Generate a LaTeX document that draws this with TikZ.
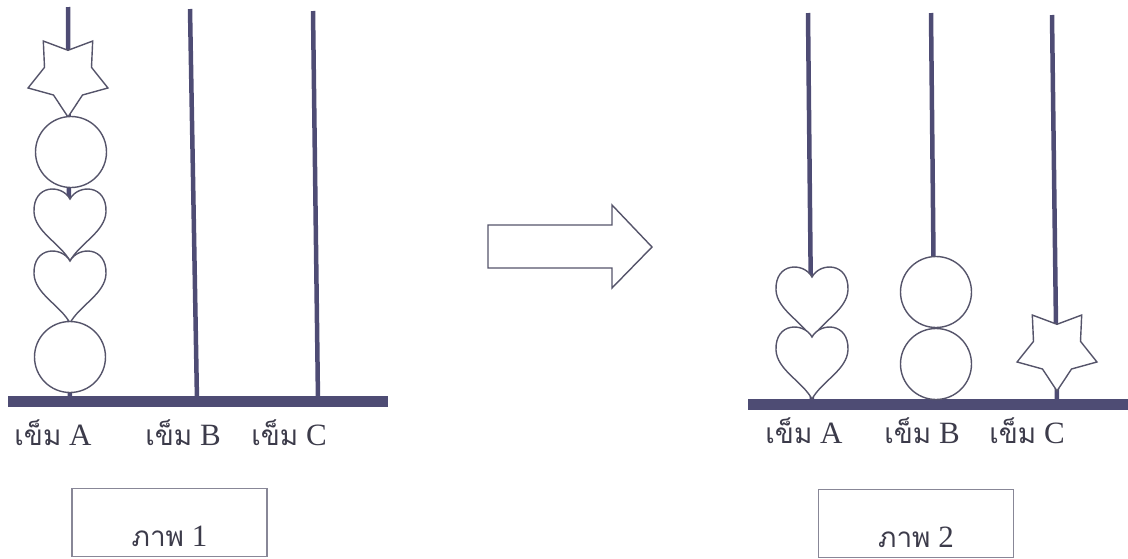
\documentclass[tikz,border=0pt]{standalone}
\usepackage{fontspec}
\setmainfont{Liberation Serif}
\newfontfamily\thaifont[Script=Thai,Scale=0.9]{Loma}
\usetikzlibrary{shapes.geometric}
\definecolor{rod}{HTML}{4E4C74}
\definecolor{ink}{HTML}{55546A}
\definecolor{txt}{HTML}{3C3B4A}
\newcommand\khem{{\thaifont เข็ม}}
\tikzset{
  rodline/.style={draw=rod,line width=4.5pt},
  basebar/.style={draw=rod,line width=11pt},
  bead/.style={draw=ink,line width=1.4pt,fill=white},
  ball/.style={bead,circle,minimum size=71pt,inner sep=0pt},
  starbead/.style={bead,star,star points=5,star point ratio=1.7,minimum size=84pt,inner sep=0pt,shape border rotate=180},
  pinlab/.style={font=\fontsize{31}{34}\selectfont,text=txt,anchor=base},
  capbox/.style={draw=ink!70,line width=1.2pt,minimum width=195pt,minimum height=68pt},
  captext/.style={font=\fontsize{31}{34}\selectfont,text=txt},
  heart/.pic={\path[bead] (0,0) .. controls (-8,-15) and (-37,-15) .. (-36,13) .. controls (-35,33) and (-10,44) .. (0,62) .. controls (10,44) and (35,33) .. (36,13) .. controls (37,-15) and (8,-15) .. (0,0) -- cycle;},
}
\begin{document}
\begin{tikzpicture}[x=1pt,y=-1pt]
\useasboundingbox (0,0) rectangle (1128,558);
% pins: name/top x/top y/foot x/foot y
\foreach \n/\xt/\yt/\xf/\yf in {a1/68/7/70/401,b1/190/9/197/401,c1/313/11/318/401,a2/808/13/812/404,b2/931/13/935/404,c2/1052/15/1057/404}{
  \coordinate (\n top) at (\xt,\yt);
  \coordinate (\n foot) at (\xf,\yf);
  \draw[rodline] (\n top) -- (\n foot);}
\coordinate (bar1w) at (8,401); \coordinate (bar1e) at (388,401);
\coordinate (bar2w) at (748,404); \coordinate (bar2e) at (1128,404);
\draw[basebar] (bar1w) -- (bar1e);
\draw[basebar] (bar2w) -- (bar2e);
% picture 1
\node[starbead] (st1) at (68,75) {};
\node[ball] (ba1) at (71,152) {};
\pic at (70,199) {heart};
\pic at (70,261) {heart};
\node[ball] (ba2) at (70,357) {};
\node[pinlab] (la1) at (53,445) {\khem\ A};
\node[pinlab] (lb1) at (183,445) {\khem\ B};
\node[pinlab] (lc1) at (289,445) {\khem\ C};
\node[capbox] (box1) at (169.5,522.5) {};
\node[captext] (cap1) at ([yshift=-14pt]box1.center) {{\thaifont ภาพ} 1};
% arrow
\draw[bead] (488,225) -- (612,225) -- (612,205) -- (652,247) -- (612,288) -- (612,268) -- (488,268) -- cycle;
% picture 2
\pic at (812,277) {heart};
\pic at (812,337) {heart};
\node[ball] (ba3) at (936,292) {};
\node[ball] (ba4) at (936,364) {};
\node[starbead] (st2) at (1057,349) {};
\node[pinlab] (la2) at (804,443) {\khem\ A};
\node[pinlab] (lb2) at (922,443) {\khem\ B};
\node[pinlab] (lc2) at (1027,443) {\khem\ C};
\node[capbox] (box2) at (916,523.5) {};
\node[captext] (cap2) at ([yshift=-14pt]box2.center) {{\thaifont ภาพ} 2};
\end{tikzpicture}
\end{document}
